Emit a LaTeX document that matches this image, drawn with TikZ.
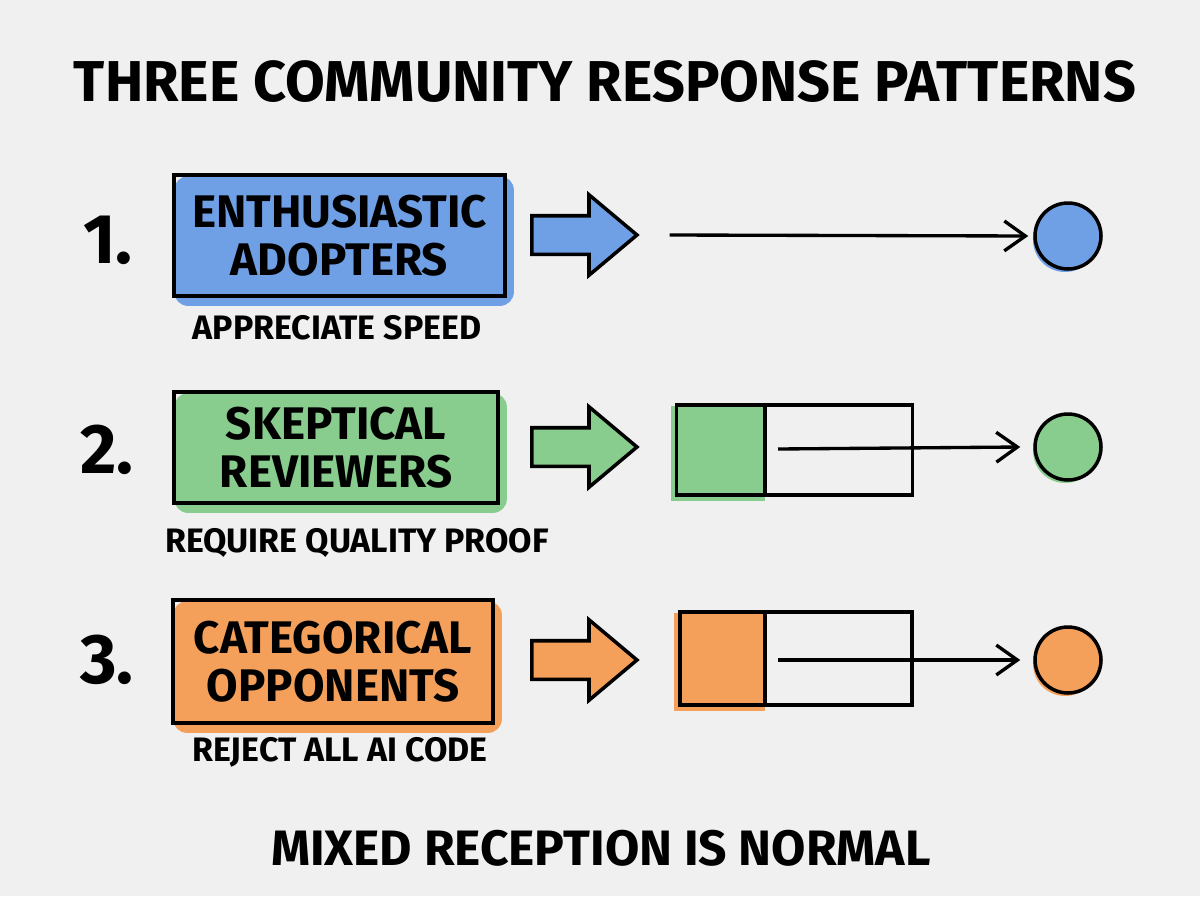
\documentclass[tikz,border=0pt]{standalone}
\usepackage{fontspec}
\setmainfont{Fira Sans}
\usetikzlibrary{shapes.arrows,arrows.meta,backgrounds}
\definecolor{paper}{HTML}{F0F0F0}
\definecolor{adoptblue}{HTML}{6FA0E6}
\definecolor{skepgreen}{HTML}{88CC8E}
\definecolor{opporange}{HTML}{F4A05A}

\begin{document}
\begin{tikzpicture}[x=0.02cm, y=-0.02cm,
    groupbox/.style={draw, line width=2.2pt, inner sep=0pt, align=center, font=\bfseries\fontsize{26}{27}\selectfont},
    subtext/.style={font=\bfseries\fontsize{19.3}{21}\selectfont},
    num/.style={font=\bfseries\fontsize{40}{44}\selectfont},
    blockarrow/.style={single arrow, draw, line width=2pt, fill=#1, inner xsep=0pt, inner ysep=0.35cm,
        minimum height=2.1cm, single arrow head extend=0.42cm, single arrow tip angle=80},
    endcircle/.style={circle, draw, line width=2pt, fill=#1, minimum size=1.32cm, inner sep=0pt},
    queue/.style={draw, line width=2pt, inner sep=0pt},
    flow/.style={line width=1.9pt, -{Straight Barb[length=12pt, width=17pt, line width=1.9pt]}}]

    \useasboundingbox (0,0) rectangle (1200,896);

    % Title
    \node[font=\bfseries\fontsize{32.8}{36}\selectfont] (title) at (605,82) {THREE COMMUNITY RESPONSE PATTERNS};

    % Draw nodes
    \node[num] (n1) at (108,240) {1.};
    \node[num] (n2) at (107,450) {2.};
    \node[num] (n3) at (107,660) {3.};

    \node[groupbox, minimum width=6.62cm, minimum height=2.42cm] (g1) at (339.5,235.5) {ENTHUSIASTIC\\ADOPTERS};
    \node[groupbox, minimum width=6.48cm, minimum height=2.22cm] (g2) at (336,447.5) {SKEPTICAL\\REVIEWERS};
    \node[groupbox, minimum width=6.40cm, minimum height=2.46cm] (g3) at (333,661.5) {CATEGORICAL\\OPPONENTS};

    \node[subtext] (s1) at (337,328) {APPRECIATE SPEED};
    \node[subtext] (s2) at (357,543) {REQUIRE QUALITY PROOF};
    \node[subtext] (s3) at (340,752) {REJECT ALL AI CODE};

    \node[blockarrow=adoptblue] (a1) at (573,235) {};
    \node[blockarrow=skepgreen] (a2) at (573,447) {};
    \node[blockarrow=opporange] (a3) at (573,660) {};

    \node[queue, minimum width=4.72cm, minimum height=1.80cm] (q2) at (794.5,450) {};
    \node[queue, minimum width=4.64cm, minimum height=1.86cm] (q3) at (796,658.5) {};

    \node[endcircle=adoptblue] (c1) at (1068,236) {};
    \node[endcircle=skepgreen] (c2) at (1068,447) {};
    \node[endcircle=opporange] (c3) at (1068,660) {};

    % Sketchy fills behind the shapes
    \begin{scope}[on background layer]
        \fill[paper] (0,0) rectangle (1200,896);
        \fill[adoptblue, rounded corners=8pt] ([shift={(2,3)}]g1.north west) rectangle ([shift={(7,8)}]g1.south east);
        \fill[skepgreen, rounded corners=8pt] ([shift={(2,3)}]g2.north west) rectangle ([shift={(7,8)}]g2.south east);
        \fill[opporange, rounded corners=8pt] ([shift={(2,3)}]g3.north west) rectangle ([shift={(7,8)}]g3.south east);
        \fill[skepgreen] ([shift={(-4,3)}]q2.north west) rectangle ([shift={(0,4)}]765,0 |- q2.south);
        \fill[opporange] ([shift={(-4,3)}]q3.north west) rectangle ([shift={(0,4)}]765,0 |- q3.south);
        \fill[adoptblue] ([shift={(-3,4)}]c1.center) circle (0.64cm);
        \fill[skepgreen] ([shift={(-3,4)}]c2.center) circle (0.64cm);
        \fill[opporange] ([shift={(-3,4)}]c3.center) circle (0.64cm);
    \end{scope}

    % Dividers inside the queues
    \draw[line width=2pt] (765,0 |- q2.north) -- (765,0 |- q2.south);
    \draw[line width=2pt] (765,0 |- q3.north) -- (765,0 |- q3.south);

    % Draw connections
    \coordinate (f2) at (778,449);
    \coordinate (f3) at (778,660);
    \draw[flow] ([xshift=0.6cm]a1.tip) -- ([xshift=-0.1cm]c1.west);
    \draw[flow] (f2) -- ([xshift=-0.26cm]c2.west);
    \draw[flow] (f3) -- ([xshift=-0.26cm]c3.west);

    % Footer
    \node[font=\bfseries\fontsize{28.3}{31}\selectfont] (foot) at (601,848) {MIXED RECEPTION IS NORMAL};
\end{tikzpicture}
\end{document}
